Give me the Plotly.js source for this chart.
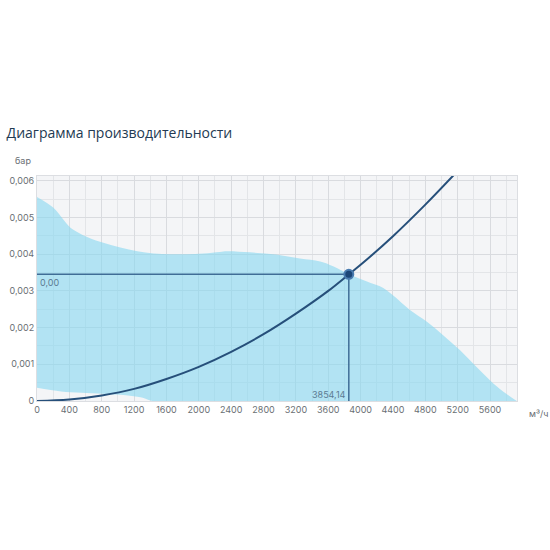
<!DOCTYPE html>
<html>
<head>
<meta charset="utf-8">
<script src="https://cdn.plot.ly/plotly-3.0.1.min.js"></script>
<style>
  html, body { margin: 0; padding: 0; background: #fff; }
  #chart { width: 550px; height: 550px; }
</style>
</head>
<body>
<div id="chart"></div>
<script>
// Fan performance chart: blue working zone, system curve, operating point.

const TITLE = "Диаграмма производительности";
const Y_UNIT = "бар";
const X_UNIT = "м³/ч";

// upper edge of the working zone
const zoneFlowMax = [0, 200, 330, 410, 620, 820, 1030, 1240, 1440, 1650, 1850, 2060, 2260, 2350, 2630, 2950, 3250, 3500, 3660, 3850, 4070, 4280, 4400, 4610, 4820, 5020, 5230, 5430, 5640, 5800, 5930];
const zonePressMax = [0.00556, 0.00527, 0.00493, 0.00473, 0.00447, 0.00431, 0.00418, 0.00408, 0.00402, 0.004, 0.004, 0.00402, 0.00406, 0.00408, 0.00405, 0.00399, 0.00388, 0.0038, 0.00367, 0.00346, 0.00326, 0.00308, 0.00288, 0.00248, 0.00216, 0.00179, 0.00138, 0.00093, 0.00048, 0.0002, 0];

// lower edge of the working zone
const zoneFlowMin = [0, 300, 800, 1100, 1280, 1380, 1430, 5930];
const zonePressMin = [0.00036, 0.00026, 0.0002, 0.00016, 0.0001, 0.00003, 0, 0];

// system curve
const sysFlow = [0, 400, 800, 1200, 1600, 2000, 2400, 2800, 3200, 3600, 3854.14, 4000, 4400, 4800, 5200];
const sysPress = [0, 0.00004, 0.00015, 0.00033, 0.0006, 0.00093, 0.00134, 0.00182, 0.00238, 0.003, 0.00345, 0.00371, 0.00449, 0.00535, 0.00627];

// operating point
const opFlow = 3854.14;
const opPress = 0.00345;
const opPressLabel = "0,00";
const opFlowLabel = "3854,14";

const NAVY = "#264f7a";
const REF = "#3f6d96";
const LABEL = "#5b7b92";
const TICK = "#6a6f74";
const FONT = "Inter, Roboto, 'Open Sans', sans-serif";

const traces = [
  { x: zoneFlowMin, y: zonePressMin, mode: "lines", line: { width: 0, shape: "spline" }, hoverinfo: "skip" },
  { x: zoneFlowMax, y: zonePressMax, mode: "lines", line: { width: 0, shape: "spline" }, fill: "tonexty", fillcolor: "rgba(134,215,240,0.6)", hoverinfo: "skip" },
  { x: [0, opFlow], y: [opPress, opPress], mode: "lines", line: { color: REF, width: 1.5 }, hoverinfo: "skip" },
  { x: [opFlow, opFlow], y: [0, opPress], mode: "lines", line: { color: REF, width: 1.5 }, hoverinfo: "skip" },
  { x: sysFlow, y: sysPress, mode: "lines", line: { color: NAVY, width: 2, shape: "spline" }, hoverinfo: "skip" },
  { x: [opFlow], y: [opPress], mode: "markers", marker: { color: "#1c4677", size: 9, line: { color: "#4a7cb0", width: 2 } }, hoverinfo: "skip" },
];

const layout = {
  width: 550,
  height: 550,
  paper_bgcolor: "#ffffff",
  plot_bgcolor: "#f4f5f7",
  separators: ", ",
  showlegend: false,
  font: { family: FONT, color: TICK, size: 9 },
  margin: { t: 176, r: 33, b: 149, l: 37 },
  title: {
    text: TITLE,
    x: 0.012, xanchor: "left", xref: "container",
    y: 0.758, yanchor: "middle", yref: "container",
    font: { family: "'Open Sans', 'Noto Sans', sans-serif", size: 14, weight: 400, color: "#233a52" },
  },
  xaxis: {
    range: [0, 5933],
    dtick: 400,
    tick0: 0,
    gridcolor: "#d9dbdf",
    gridwidth: 1,
    minor: { dtick: 200, gridcolor: "#e3e5e8", showgrid: true },
    showline: true, linecolor: "#dcdee2", mirror: true,
    zeroline: false,
    ticks: "",
    tickfont: { size: 9, color: TICK },
  },
  yaxis: {
    range: [0, 0.00613],
    dtick: 0.001,
    tick0: 0,
    gridcolor: "#d9dbdf",
    minor: { dtick: 0.0005, gridcolor: "#e3e5e8", showgrid: true },
    showline: true, linecolor: "#dcdee2", mirror: true,
    zeroline: false,
    ticks: "",
    tickfont: { size: 9, color: TICK },
  },
  annotations: [
    { x: 0, y: opPress, xref: "x", yref: "y", text: opPressLabel, showarrow: false, xanchor: "left", yanchor: "top", xshift: 1, yshift: -1, font: { size: 9, color: LABEL } },
    { x: opFlow, y: 0, xref: "x", yref: "y", text: opFlowLabel, showarrow: false, xanchor: "right", yanchor: "bottom", xshift: -1, yshift: -1, font: { size: 9, color: LABEL } },
    { x: 0, y: 1, xref: "paper", yref: "paper", text: Y_UNIT, showarrow: false, xanchor: "right", yanchor: "bottom", xshift: -4, yshift: 8, font: { size: 9, color: TICK } },
    { x: 1, y: 0, xref: "paper", yref: "paper", text: X_UNIT, showarrow: false, xanchor: "left", yanchor: "top", xshift: 10, yshift: -5, font: { size: 9, color: TICK } },
  ],
};

Plotly.newPlot("chart", traces, layout, { displayModeBar: false, staticPlot: true });
</script>
</body>
</html>
